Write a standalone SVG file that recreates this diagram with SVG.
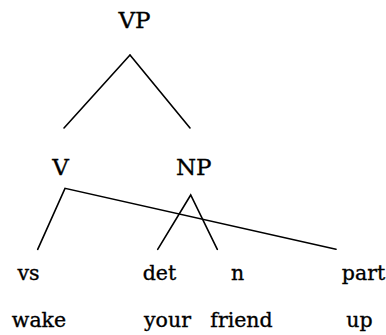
<svg xmlns="http://www.w3.org/2000/svg" width="386" height="335" viewBox="0 0 386 335">
<style>
text{font-family:"DejaVu Serif","Liberation Serif",serif;fill:#000;stroke:#000;stroke-width:0.35;text-anchor:middle}
.cat{font-size:23px}
.pos{font-size:20.5px}
.word{font-size:20.5px}
.edges line,.edges polyline{stroke:#000;stroke-width:1.6;fill:none;stroke-linecap:round;stroke-linejoin:miter}
</style>
<rect width="386" height="335" fill="#fff"/>
<g class="edges" id="connectors">
<line x1="130" y1="55" x2="64" y2="128"/>
<line x1="130" y1="55" x2="190" y2="128"/>
<polyline points="37.7,249.3 65,188.3 336,249.3"/>
<polyline points="157.7,249.3 190.7,195 217.3,249.3"/>
</g>
<g id="VP"><text class="cat" x="134.5" y="28.3">VP</text></g>
<g id="V"><text class="cat" x="60.5" y="175">V</text></g>
<g id="NP"><text class="cat" x="193.7" y="175">NP</text></g>
<g id="vs"><text class="pos" x="28.5" y="279.5">vs</text></g>
<g id="det"><text class="pos" x="159.5" y="279.5">det</text></g>
<g id="n"><text class="pos" x="237.5" y="279.5">n</text></g>
<g id="part"><text class="pos" x="363.5" y="279.5">part</text></g>
<g id="wake"><text class="word" x="39" y="326.7">wake</text></g>
<g id="your"><text class="word" x="167.5" y="326.7">your</text></g>
<g id="friend"><text class="word" x="241.5" y="326.7">friend</text></g>
<g id="up"><text class="word" x="359.5" y="326.7">up</text></g>
</svg>
